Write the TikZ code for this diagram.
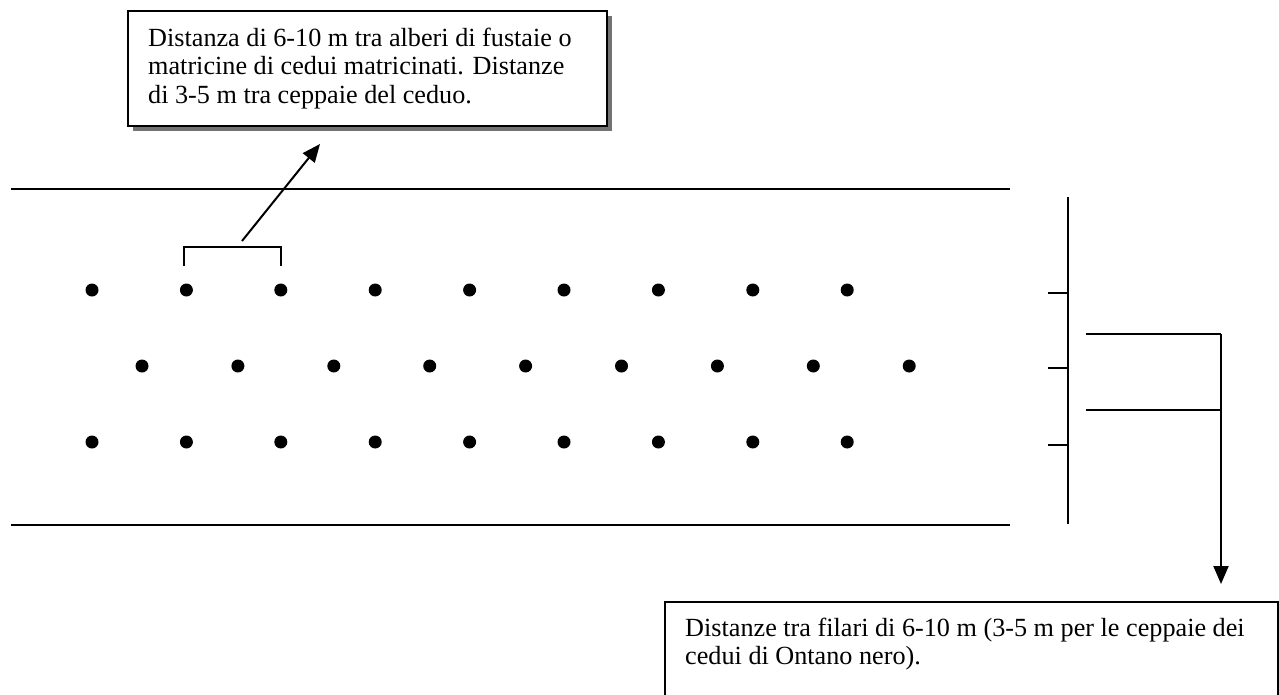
\documentclass[tikz,border=0pt]{standalone}
\usepackage{fontspec}
\setmainfont{Liberation Serif}
\usetikzlibrary{arrows.meta}
\begin{document}
\begin{tikzpicture}[x=1pt,y=-1pt,
  ln/.style={line width=2pt, draw=black},
  dotnode/.style={circle, fill=black, inner sep=0pt, minimum size=13pt},
  linetext/.style={anchor=base west, inner sep=0pt, font=\fontsize{26.2}{29}\selectfont},
  boxnode/.style={draw=black, line width=2pt, fill=white, inner sep=0pt, anchor=north west},
  shadownode/.style={fill=black!55, inner sep=0pt, anchor=north west},
  arr/.style={ln, -{Triangle[length=18pt,width=15pt]}}
]
\useasboundingbox[fill=white] (0,0) rectangle (1279,694);

% top callout box
\node (topshadow) [shadownode, minimum width=479pt, minimum height=115pt] at (133,16) {};
\node (topbox) [boxnode, minimum width=479pt, minimum height=115pt] at (127,10) {};
\node (ta) [linetext] at (148,46) {Distanza di 6-10 m tra alberi di fustaie o};
\node (tb) [linetext] at (148,74.5) {matricine di cedui matricinati. Distanze};
\node (tc) [linetext] at (148,103) {di 3-5 m tra ceppaie del ceduo.};

% band lines
\coordinate (bandTL) at (11,189);
\coordinate (bandTR) at (1010,189);
\coordinate (bandBL) at (11,525);
\coordinate (bandBR) at (1010,525);
\draw[ln] (bandTL) -- (bandTR);
\draw[ln] (bandBL) -- (bandBR);

% dots
\foreach \i in {0,...,8} {
  \node (ra\i) [dotnode] at ({92+94.4*\i},290) {};
  \node (rc\i) [dotnode] at ({92+94.4*\i},442) {};
  \node (rb\i) [dotnode] at ({142+95.9*\i},366) {};
}

% bracket and arrow to top box
\coordinate (brA) at (184,266);
\coordinate (brB) at (184,247);
\coordinate (brC) at (281,247);
\coordinate (brD) at (281,266);
\draw[ln] (brA) -- (brB) -- (brC) -- (brD);
\coordinate (arS) at (242,241);
\coordinate (arE) at (320,144);
\draw[arr] (arS) -- (arE);

% right scale
\coordinate (vT) at (1068,197);
\coordinate (vB) at (1068,524);
\draw[ln] (vT) -- (vB);
\foreach \y [count=\k] in {293,368,445} {
  \coordinate (tk\k) at (1048,\y);
  \draw[ln] (tk\k) -- (1068,\y);
}

% right bracket and arrow down
\coordinate (rbA) at (1086,334);
\coordinate (rbB) at (1221,334);
\coordinate (rbC) at (1086,410);
\coordinate (rbD) at (1221,410);
\coordinate (rbE) at (1221,584);
\draw[ln] (rbA) -- (rbB);
\draw[ln] (rbC) -- (rbD);
\draw[arr] (rbB) -- (rbE);

% bottom box
\node (botbox) [boxnode, minimum width=613pt, minimum height=120pt] at (664,601) {};
\node (ba) [linetext] at (685,636) {Distanze tra filari di 6-10 m (3-5 m per le ceppaie dei};
\node (bb) [linetext] at (685,664.5) {cedui di Ontano nero).};
\end{tikzpicture}
\end{document}
